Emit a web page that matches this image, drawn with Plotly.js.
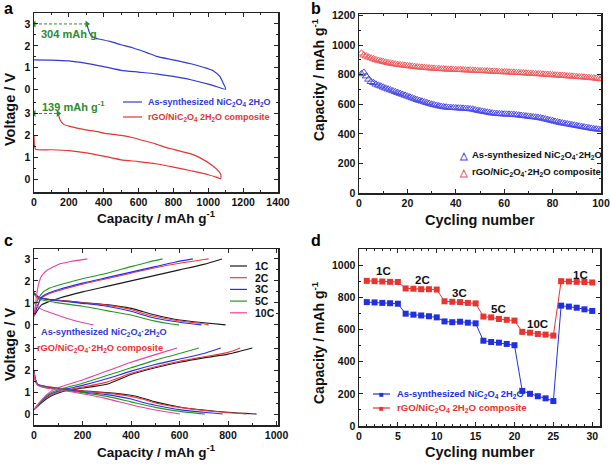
<!DOCTYPE html>
<html>
<head>
<meta charset="utf-8">
<script src="https://cdn.plot.ly/plotly-3.0.1.min.js"></script>
<style>
  html, body { margin: 0; padding: 0; background: #fff; }
  #chart { width: 610px; height: 464px; }
</style>
</head>
<body>
<div id="chart"></div>
<script>
// ---------- panel a : first cycle (two curves stacked with an offset) ----------
const aBlueCap = [0, 100, 200, 300, 400, 500, 600, 700, 800, 900, 1000, 1050, 1100,
                  1085, 1066, 1030, 989, 900, 798, 703, 650, 569, 500, 435, 380, 350, 325, 310, 304];
const aBlueV   = [1.36, 1.35, 1.31, 1.2, 1.05, 0.88, 0.8, 0.72, 0.6, 0.45, 0.25, 0.13, 0.02,
                  0.3, 0.6, 0.85, 0.98, 1.18, 1.36, 1.52, 1.68, 1.9, 2.05, 2.2, 2.3, 2.35, 2.5, 2.8, 3.0];
const aRedCap  = [0, 3, 10, 100, 200, 300, 400, 500, 600, 700, 800, 900, 1000, 1050, 1071,
                  1072, 1060, 1027, 951, 900, 800, 760, 700, 600, 569, 500, 400, 378, 300, 200, 170, 150, 139];
const aRedV    = [1.98, 1.5, 1.36, 1.34, 1.3, 1.2, 1.05, 0.88, 0.8, 0.7, 0.55, 0.38, 0.2, 0.08, 0.02,
                  0.2, 0.35, 0.6, 0.98, 1.15, 1.36, 1.44, 1.6, 1.82, 1.89, 2.0, 2.1, 2.15, 2.25, 2.42, 2.5, 2.7, 3.0];
const aOffset = 4.09;          // upper curve is shifted up on the shared axis
const aIrrev = [304, 139];     // first-cycle capacity loss, mAh/g

// ---------- panel b : cycling at constant rate ----------
const bCycles = Array.from({length: 100}, (_, i) => i + 1);
const bRed = [945, 932, 925, 918, 912, 906, 900, 896, 892, 888,
              884, 880, 877, 874, 871, 868, 866, 864, 862, 860,
              858, 856, 854, 852, 850, 849, 847, 846, 845, 843,
              842, 841, 840, 839, 838, 837, 836, 836, 835, 834,
              833, 833, 832, 831, 830, 830, 829, 828, 827, 826,
              826, 825, 824, 823, 822, 822, 821, 820, 819, 818,
              817, 817, 816, 815, 814, 813, 812, 811, 810, 809,
              808, 807, 806, 805, 804, 803, 802, 801, 800, 798,
              797, 796, 795, 794, 793, 791, 790, 789, 788, 786,
              785, 784, 783, 781, 780, 778, 777, 775, 773, 770];
const bBlue = [805, 815, 790, 768, 752, 745, 735, 728, 722, 715,
               708, 702, 696, 690, 684, 678, 672, 666, 660, 654,
               648, 642, 636, 630, 625, 620, 615, 610, 605, 600,
               596, 592, 588, 585, 582, 580, 578, 577, 576, 575,
               574, 573, 572, 571, 570, 568, 566, 562, 558, 555,
               552, 549, 546, 543, 540, 538, 536, 535, 534, 533,
               532, 532, 531, 530, 528, 526, 524, 522, 520, 518,
               516, 514, 512, 510, 507, 504, 500, 496, 492, 488,
               484, 480, 476, 473, 470, 467, 464, 461, 458, 455,
               452, 449, 446, 443, 440, 437, 434, 432, 430, 428];

// ---------- panel c : charge/discharge at different rates ----------
const cRates = ['1C', '2C', '3C', '5C', '10C'];
const cColors = ['#1a1a1a', '#f03a3a', '#2a2af0', '#1f9a1f', '#ef3f9f'];
const cOffset = 4.05;
// as-synthesized (upper group)
const cTopChgCap = [
  [0, 30, 60, 100, 200, 300, 400, 500, 600, 700, 775],
  [0, 30, 60, 100, 200, 300, 400, 500, 600, 700, 720],
  [0, 30, 60, 100, 200, 300, 400, 500, 580, 655],
  [0, 10, 30, 60, 100, 200, 300, 400, 470, 530],
  [0, 5, 10, 20, 30, 50, 100, 150, 220]];
const cTopChgV = [
  [0.4, 0.9, 1.05, 1.2, 1.5, 1.75, 2.0, 2.25, 2.5, 2.75, 3.0],
  [0.4, 1.2, 1.4, 1.55, 1.85, 2.1, 2.35, 2.6, 2.8, 2.97, 3.0],
  [0.4, 1.25, 1.45, 1.6, 1.9, 2.15, 2.4, 2.65, 2.85, 3.0],
  [0.4, 1.0, 1.4, 1.65, 1.8, 2.1, 2.35, 2.65, 2.85, 3.0],
  [0.4, 0.8, 1.3, 1.9, 2.2, 2.45, 2.75, 2.88, 3.0]];
const cTopDisCap = [
  [0, 20, 50, 100, 200, 300, 400, 450, 500, 600, 700, 790],
  [0, 20, 50, 100, 200, 300, 400, 450, 500, 600, 700, 720],
  [0, 20, 50, 100, 200, 300, 400, 450, 500, 600, 690],
  [0, 20, 50, 100, 200, 300, 400, 450, 500, 560, 598],
  [0, 5, 25, 78, 148, 217, 245]];
const cTopDisV = [
  [1.45, 1.25, 1.18, 1.12, 1.02, 0.92, 0.75, 0.6, 0.45, 0.22, 0.1, 0.0],
  [1.45, 1.25, 1.18, 1.12, 1.0, 0.9, 0.7, 0.52, 0.38, 0.18, 0.05, 0.0],
  [1.45, 1.25, 1.17, 1.1, 0.98, 0.85, 0.62, 0.45, 0.3, 0.12, 0.0],
  [1.4, 1.18, 1.1, 1.0, 0.85, 0.65, 0.45, 0.3, 0.17, 0.05, 0.0],
  [1.0, 0.95, 0.74, 0.52, 0.26, 0.06, 0.0]];
// rGO composite (lower group)
const cBotChgCap = [
  [0, 30, 60, 100, 150, 200, 300, 400, 500, 600, 700, 800, 900],
  [0, 30, 60, 100, 150, 200, 300, 400, 500, 600, 700, 800, 850],
  [0, 30, 60, 100, 200, 300, 400, 500, 600, 700, 770],
  [0, 30, 60, 100, 200, 300, 400, 500, 600, 680],
  [0, 30, 60, 100, 200, 300, 400, 500, 590]];
const cBotChgV = [
  [0.2, 0.5, 0.75, 0.95, 1.1, 1.18, 1.35, 1.8, 2.1, 2.35, 2.55, 2.72, 3.0],
  [0.2, 0.55, 0.8, 1.0, 1.12, 1.22, 1.45, 1.85, 2.15, 2.4, 2.6, 2.8, 3.0],
  [0.2, 0.58, 0.85, 1.05, 1.3, 1.6, 1.95, 2.25, 2.5, 2.75, 3.0],
  [0.2, 0.6, 0.9, 1.1, 1.4, 1.75, 2.1, 2.45, 2.75, 3.0],
  [0.2, 0.62, 0.95, 1.2, 1.55, 1.95, 2.35, 2.7, 3.0]];
const cBotDisCap = [
  [0, 5, 15, 50, 100, 200, 300, 400, 450, 500, 600, 700, 800, 918],
  [0, 5, 15, 50, 100, 200, 300, 400, 450, 500, 600, 700, 800, 877],
  [0, 5, 15, 50, 100, 200, 300, 400, 450, 500, 600, 700, 778],
  [0, 5, 15, 50, 100, 200, 300, 400, 500, 600, 705],
  [0, 5, 15, 50, 100, 200, 300, 400, 500, 602]];
const cBotDisV = [
  [2.0, 1.6, 1.35, 1.25, 1.18, 1.05, 0.97, 0.85, 0.72, 0.55, 0.32, 0.18, 0.08, 0.0],
  [2.0, 1.6, 1.35, 1.25, 1.17, 1.04, 0.95, 0.8, 0.67, 0.5, 0.3, 0.16, 0.06, 0.0],
  [2.0, 1.6, 1.35, 1.23, 1.15, 1.0, 0.88, 0.68, 0.52, 0.4, 0.2, 0.08, 0.0],
  [1.95, 1.55, 1.32, 1.2, 1.12, 0.97, 0.8, 0.55, 0.3, 0.12, 0.0],
  [1.9, 1.5, 1.3, 1.18, 1.1, 0.92, 0.7, 0.42, 0.18, 0.0]];

// ---------- panel d : rate capability ----------
const dCycles = Array.from({length: 30}, (_, i) => i + 1);
const dRed  = [902, 900, 898, 896, 895, 855, 853, 850, 850, 848, 775, 772, 770, 765, 762,
               680, 675, 665, 660, 655, 585, 580, 572, 568, 562, 900, 898, 896, 895, 892];
const dBlue = [770, 768, 765, 763, 760, 698, 692, 687, 682, 675, 650, 645, 648, 642, 638,
               530, 522, 518, 510, 502, 218, 200, 185, 172, 155, 748, 742, 735, 725, 715];
const dRateLabels = ['1C', '2C', '3C', '5C', '10C', '1C'];
const dRateX = [3.1, 8.2, 12.9, 18.0, 22.9, 28.5];
const dRateY = [966, 905, 825, 726, 634, 941];

// ---------- legend texts ----------
const nameAs  = 'As-synthesized NiC<sub>2</sub>O<sub>4</sub> 2H<sub>2</sub>O';
const nameRgo = 'rGO/NiC<sub>2</sub>O<sub>4</sub> 2H<sub>2</sub>O composite';
const nameAsDot  = 'As-synthesized NiC<sub>2</sub>O<sub>4</sub>·2H<sub>2</sub>O';
const nameRgoDot = 'rGO/NiC<sub>2</sub>O<sub>4</sub>·2H<sub>2</sub>O composite';

const BLUE = '#2f3bd6', RED = '#e8332f', GREEN = '#2e8b2e';
const FONT = 'Liberation Sans, Arial, sans-serif';
const W = 610, H = 464;
const px = x => x / W;
const py = y => 1 - y / H;

const traces = [];

// panel a
traces.push({x: aBlueCap, y: aBlueV.map(v => v + aOffset), xaxis: 'x', yaxis: 'y',
  mode: 'lines', line: {color: BLUE, width: 1.2, shape: 'spline', smoothing: 0.6}});
traces.push({x: aRedCap, y: aRedV, xaxis: 'x', yaxis: 'y',
  mode: 'lines', line: {color: RED, width: 1.2, shape: 'spline', smoothing: 0.6}});
// dashed double arrows for the irreversible capacity
[[aIrrev[0], 3 + aOffset], [aIrrev[1], 3]].forEach(([c, v]) => {
  traces.push({x: [0, c], y: [v, v], xaxis: 'x', yaxis: 'y', mode: 'lines+markers',
    line: {color: GREEN, width: 1, dash: '3px,2px'},
    marker: {color: GREEN, size: 6, symbol: ['triangle-left', 'triangle-right']}});
});

// panel b
traces.push({x: bCycles, y: bRed, xaxis: 'x2', yaxis: 'y2', mode: 'markers',
  marker: {symbol: 'triangle-up-open', size: 7, color: '#f05a5a', line: {width: 1}}});
traces.push({x: bCycles, y: bBlue, xaxis: 'x2', yaxis: 'y2', mode: 'markers',
  marker: {symbol: 'triangle-up-open', size: 7, color: '#4a4ae6', line: {width: 1}}});

// panel c
cRates.forEach((r, i) => {
  const ln = {color: cColors[i], width: 1.1, shape: 'spline', smoothing: 0.6};
  traces.push({x: cTopChgCap[i], y: cTopChgV[i].map(v => v + cOffset), xaxis: 'x3', yaxis: 'y3', mode: 'lines', line: ln});
  traces.push({x: cTopDisCap[i], y: cTopDisV[i].map(v => v + cOffset), xaxis: 'x3', yaxis: 'y3', mode: 'lines', line: ln});
  traces.push({x: cBotChgCap[i], y: cBotChgV[i], xaxis: 'x3', yaxis: 'y3', mode: 'lines', line: ln});
  traces.push({x: cBotDisCap[i], y: cBotDisV[i], xaxis: 'x3', yaxis: 'y3', mode: 'lines', line: ln});
});

// panel d
traces.push({x: dCycles, y: dRed, xaxis: 'x4', yaxis: 'y4', mode: 'lines+markers',
  line: {color: RED, width: 1}, marker: {symbol: 'square', size: 6, color: RED}});
traces.push({x: dCycles, y: dBlue, xaxis: 'x4', yaxis: 'y4', mode: 'lines+markers',
  line: {color: '#2030e0', width: 1}, marker: {symbol: 'square', size: 6, color: '#2030e0'}});

// ---------- axes ----------
const tickFont = {family: FONT, size: 10.5, color: '#111', weight: 'bold'};
function axis(extra) {
  return Object.assign({
    showline: true, linecolor: '#222', linewidth: 1.5, mirror: 'allticks',
    ticks: 'inside', ticklen: 4, tickwidth: 1, tickcolor: '#222',
    showgrid: false, zeroline: false, tickfont: tickFont, ticklabeloverflow: 'allow',
    minor: {ticks: 'inside', ticklen: 2, tickcolor: '#222'}
  }, extra);
}
const voltTicks = [0, 1, 2, 3];
function voltAxis(offset, domain, range) {
  const vals = voltTicks.concat(voltTicks.map(v => v + offset));
  const minors = [0.5, 1.5, 2.5, 3.5].concat([0.5, 1.5, 2.5].map(v => v + offset));
  return axis({domain: domain, range: range, tickmode: 'array', tickvals: vals,
    ticktext: vals.map((v, i) => String(voltTicks[i % 4])),
    minor: {ticks: 'inside', ticklen: 2, tickcolor: '#222', tickvals: minors}});
}
const minorD = d => ({ticks: 'inside', ticklen: 2, tickcolor: '#222', dtick: d});

// ---------- titles, legends & labels (annotations) ----------
const ann = [];
const shp = [];
function label(x, y, text, size, color, anchor, angle) {
  ann.push({xref: 'paper', yref: 'paper', x: px(x), y: py(y), text: text, showarrow: false,
    xanchor: anchor || 'left', yanchor: 'middle', textangle: angle || 0,
    font: {family: FONT, size: size, color: color, weight: 'bold'}});
}
function keyLine(x0, x1, y, color) {
  shp.push({type: 'line', xref: 'paper', yref: 'paper', x0: px(x0), x1: px(x1), y0: py(y), y1: py(y),
    line: {color: color, width: 1.2}});
}
const capTitle = 'Capacity / mAh g<sup>-1</sup>';
// axis titles
label(156, 217, capTitle, 13.5, '#111', 'center');
label(156, 451, capTitle, 13.5, '#111', 'center');
label(480, 220, 'Cycling number', 14.5, '#111', 'center');
label(480, 452, 'Cycling number', 14.5, '#111', 'center');
label(10, 110, 'Voltage / V', 14.5, '#111', 'center', -90);
label(10, 345, 'Voltage / V', 14.5, '#111', 'center', -90);
label(318, 80, capTitle, 14, '#111', 'center', -90);
label(318, 343, capTitle, 14, '#111', 'center', -90);
// panel letters
label(2, 8, 'a', 16, '#000'); label(309, 8, 'b', 16, '#000');
label(2, 240, 'c', 16, '#000'); label(309, 240, 'd', 16, '#000');
// panel a
ann.push({xref: 'x', yref: 'y', x: 29, y: 2.55 + aOffset, text: aIrrev[0] + ' mAh g', showarrow: false,
  xanchor: 'left', yanchor: 'middle', font: {family: FONT, size: 11, color: GREEN, weight: 'bold'}});
ann.push({xref: 'x', yref: 'y', x: 34, y: 3.36, text: aIrrev[1] + ' mAh g<sup>-1</sup>', showarrow: false,
  xanchor: 'left', yanchor: 'middle', font: {family: FONT, size: 11, color: GREEN, weight: 'bold'}});
keyLine(123, 142, 102, BLUE); label(146, 102, nameAs, 9, BLUE);
keyLine(123, 142, 117, RED); label(146, 117, nameRgo, 9, RED);
// panel b
label(463, 155, '△', 10, '#4a4ae6', 'center'); label(470, 155, nameAsDot, 9.5, '#111');
label(463, 172, '△', 10, '#f05a5a', 'center'); label(470, 172, nameRgoDot, 9.5, '#111');
// panel c
cRates.forEach((r, i) => {
  const y = 266 + i * 11.7;
  keyLine(230, 247, y, cColors[i]);
  label(253, y, r, 10.5, '#111');
});
label(39, 332, nameAsDot, 9.2, BLUE);
label(35, 348, nameRgoDot, 9.3, RED);
// panel d
dRateLabels.forEach((t, i) => {
  ann.push({xref: 'x4', yref: 'y4', x: dRateX[i], y: dRateY[i], text: t, showarrow: false,
    font: {family: FONT, size: 11.5, color: '#111', weight: 'bold'}});
});
keyLine(373, 390, 394, '#2030e0'); label(381, 394, '■', 8, '#2030e0', 'center'); label(395, 394, nameAs, 9.3, '#2030e0');
keyLine(373, 390, 408, RED); label(381, 408, '■', 8, RED, 'center'); label(395, 408, nameRgo, 9.6, RED);

const layout = {
  width: W, height: H, margin: {l: 0, r: 0, t: 0, b: 0},
  paper_bgcolor: '#fff', plot_bgcolor: '#fff', showlegend: false,
  font: {family: FONT, color: '#111'},
  xaxis:  axis({domain: [px(34), px(278)], range: [0, 1400], anchor: 'y', dtick: 200, minor: minorD(100)}),
  yaxis:  Object.assign(voltAxis(aOffset, [py(192), py(13)], [-0.59, 7.59]), {anchor: 'x'}),
  xaxis2: axis({domain: [px(359), px(601)], range: [0, 100], anchor: 'y2', dtick: 20, minor: minorD(10)}),
  yaxis2: axis({domain: [py(193), py(14)], range: [0, 1210], anchor: 'x2', dtick: 200, minor: minorD(100)}),
  xaxis3: axis({domain: [px(34), px(278)], range: [0, 1006], anchor: 'y3', dtick: 200, minor: minorD(100)}),
  yaxis3: Object.assign(voltAxis(cOffset, [py(425), py(249)], [-0.5, 7.5]), {anchor: 'x3'}),
  xaxis4: axis({domain: [px(359), px(600)], range: [0, 31], anchor: 'y4', dtick: 5, minor: minorD(1)}),
  yaxis4: axis({domain: [py(426), py(249)], range: [0, 1100], anchor: 'x4', dtick: 200, minor: minorD(100)}),
  annotations: ann,
  shapes: shp
};

Plotly.newPlot('chart', traces, layout, {staticPlot: true, displayModeBar: false});
</script>
</body>
</html>
